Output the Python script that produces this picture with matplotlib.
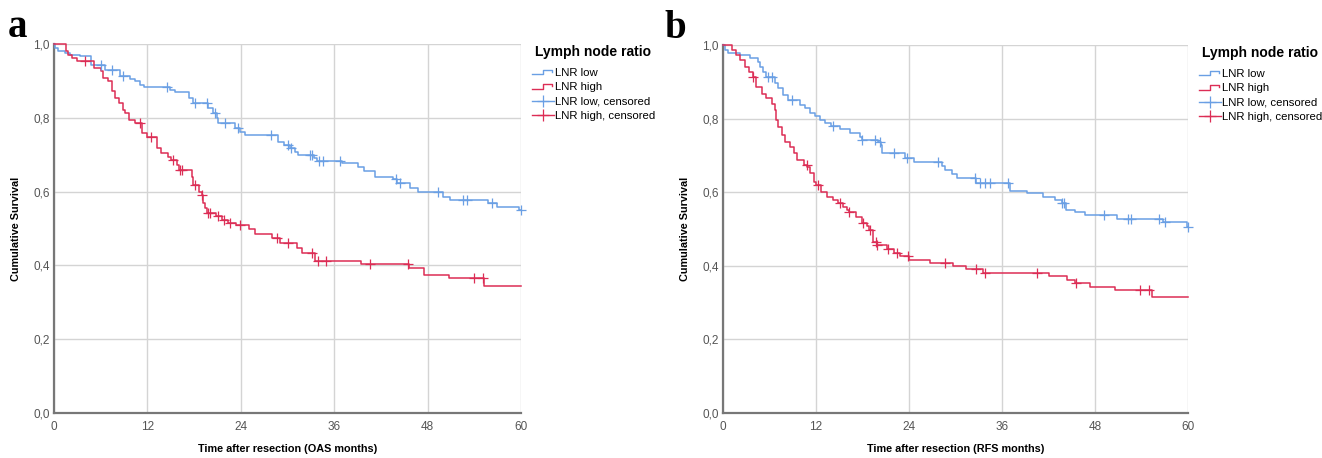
import numpy as np
import matplotlib
matplotlib.use("Agg")
import matplotlib.pyplot as plt
from matplotlib.lines import Line2D
from matplotlib.legend_handler import HandlerBase

plt.rcParams['font.family'] = ['Liberation Sans', 'DejaVu Sans']

# ---- data ----
# panel a: overall survival (OAS)
a_low_t = [0.1, 0.55, 1.4, 2.1, 3.3, 4.8, 6.6, 8.5, 9.8, 10.4, 11.1, 11.5, 14.9, 15.6, 17.3, 17.8,
           19.8, 20.4, 20.9, 21.1, 23.3, 23.9, 24.6, 28.8, 29.5, 30.3, 31.0, 31.4, 33.4, 33.8, 37.0,
           39.1, 39.8, 41.3, 43.6, 44.1, 45.8, 46.8, 50.0, 50.9, 55.8, 56.9, 59.8]
a_low_s = [0.989, 0.980, 0.976, 0.971, 0.967, 0.944, 0.930, 0.912, 0.906, 0.899, 0.890, 0.883, 0.876,
           0.870, 0.854, 0.840, 0.826, 0.812, 0.799, 0.785, 0.772, 0.762, 0.753, 0.735, 0.726, 0.717,
           0.708, 0.699, 0.690, 0.683, 0.677, 0.666, 0.657, 0.640, 0.633, 0.622, 0.609, 0.598, 0.586,
           0.577, 0.568, 0.559, 0.550]
a_low_cens = [6.1, 7.4, 8.9, 14.5, 18.1, 19.7, 20.7, 22.0, 23.7, 27.9, 30.1, 30.5, 32.9, 33.2, 34.0,
              34.5, 36.8, 44.0, 44.4, 49.3, 52.5, 53.0, 56.3, 60.0]

a_high_t = [1.5, 1.8, 2.3, 2.9, 5.1, 6.1, 6.3, 7.0, 7.4, 7.8, 8.3, 8.9, 9.1, 9.6, 10.4, 11.3, 11.9,
            13.2, 13.8, 14.7, 15.0, 15.8, 16.0, 17.7, 17.9, 18.6, 19.0, 19.2, 19.4, 19.6, 20.8, 21.6,
            22.4, 23.4, 25.0, 25.8, 28.0, 29.0, 31.2, 31.8, 33.5, 39.5, 45.6, 47.5, 50.7, 55.3]
a_high_s = [0.980, 0.971, 0.962, 0.953, 0.935, 0.926, 0.908, 0.899, 0.872, 0.854, 0.840, 0.822, 0.812,
            0.795, 0.785, 0.758, 0.747, 0.717, 0.704, 0.695, 0.686, 0.672, 0.659, 0.640, 0.618, 0.600,
            0.591, 0.570, 0.555, 0.543, 0.534, 0.523, 0.516, 0.509, 0.500, 0.484, 0.473, 0.460, 0.446,
            0.433, 0.413, 0.404, 0.392, 0.374, 0.365, 0.345]
a_high_cens = [4.0, 11.0, 12.4, 15.3, 16.2, 16.4, 18.1, 19.0, 19.8, 20.1, 21.1, 21.8, 22.6, 23.9, 28.7,
               30.1, 33.1, 33.9, 35.0, 40.6, 45.5, 53.9, 55.1]

# panel b: recurrence-free survival (RFS)
b_low_t = [0.25, 0.7, 2.2, 3.5, 4.5, 4.8, 5.2, 5.6, 6.7, 7.1, 7.8, 8.4, 9.9, 10.6, 11.2, 11.9, 12.5,
           13.2, 13.9, 15.1, 16.4, 17.7, 17.9, 20.0, 20.4, 20.5, 23.5, 24.6, 28.2, 28.6, 29.5, 30.2,
           32.7, 37.0, 39.2, 41.3, 42.8, 43.7, 44.3, 45.4, 46.7, 50.8, 56.8, 59.9]
b_low_s = [0.986, 0.979, 0.973, 0.964, 0.955, 0.941, 0.927, 0.914, 0.896, 0.882, 0.864, 0.850, 0.837,
           0.828, 0.815, 0.806, 0.796, 0.787, 0.780, 0.773, 0.760, 0.751, 0.742, 0.737, 0.728, 0.706,
           0.692, 0.683, 0.670, 0.660, 0.650, 0.638, 0.624, 0.603, 0.597, 0.588, 0.579, 0.570, 0.552,
           0.547, 0.538, 0.527, 0.518, 0.506]
b_low_cens = [5.8, 6.3, 8.9, 14.2, 17.9, 19.6, 20.3, 22.0, 23.7, 27.8, 32.5, 33.2, 33.8, 34.5, 36.8,
              43.8, 44.0, 49.1, 52.3, 52.7, 56.2, 57.0, 60.0]

b_high_t = [1.1, 1.7, 2.2, 2.8, 3.3, 3.9, 4.3, 5.0, 5.6, 6.3, 6.7, 6.9, 7.1, 7.6, 8.0, 8.6, 9.1, 9.5,
            10.4, 10.9, 11.2, 11.7, 12.0, 12.7, 13.4, 14.2, 14.9, 15.5, 16.0, 16.3, 17.2, 17.9, 18.6,
            18.9, 19.3, 19.9, 21.1, 22.0, 22.9, 24.0, 26.7, 29.7, 31.4, 33.5, 42.0, 44.4, 45.4, 47.4,
            50.6, 55.3]
b_high_s = [0.986, 0.973, 0.959, 0.941, 0.927, 0.912, 0.886, 0.868, 0.855, 0.841, 0.823, 0.796, 0.778,
            0.755, 0.737, 0.724, 0.706, 0.688, 0.675, 0.669, 0.651, 0.629, 0.620, 0.601, 0.588, 0.579,
            0.570, 0.560, 0.552, 0.547, 0.533, 0.515, 0.508, 0.497, 0.466, 0.457, 0.447, 0.436, 0.427,
            0.416, 0.408, 0.399, 0.390, 0.381, 0.371, 0.361, 0.352, 0.343, 0.334, 0.314]
b_high_cens = [3.9, 10.8, 12.2, 15.1, 16.3, 18.1, 19.0, 19.7, 19.9, 21.3, 22.5, 23.9, 28.6, 32.7, 33.8,
               40.5, 45.6, 53.8, 55.0]

labels = ["LNR low", "LNR high", "LNR low, censored", "LNR high, censored"]
legend_title = "Lymph node ratio"
x_ticks = [0, 12, 24, 36, 48, 60]
y_ticks = [0.0, 0.2, 0.4, 0.6, 0.8, 1.0]
y_ticklabels = ["0,0", "0,2", "0,4", "0,6", "0,8", "1,0"]

BLUE = "#6a9fe4"
RED = "#dc2d55"


def km_curve(ax, t, s, cens, color):
    tt = np.array([0.0] + t + [60.0])
    ss = np.array([1.0] + s + [s[-1]])
    ax.step(tt, ss, where="post", color=color, lw=1.1, zorder=3, clip_on=False)
    idx = np.searchsorted(tt, cens, side="right") - 1
    ax.plot(cens, ss[idx], ls="none", marker="+", ms=7, mew=0.9, color=color, zorder=4, clip_on=False)


class StepHandler(HandlerBase):
    def create_artists(self, legend, orig_handle, xdescent, ydescent, width, height, fontsize, trans):
        xs = np.array([0.0, 0.5, 0.5, 0.92, 0.92]) * width - xdescent
        ys = np.array([0.2, 0.2, 0.8, 0.8, 0.5]) * height - ydescent
        ln = Line2D(xs, ys, color=orig_handle.get_color(), lw=1.0, transform=trans)
        return [ln]


fig = plt.figure(figsize=(13.22, 4.58), dpi=100)
ax_a = fig.add_axes([54 / 1322, 1 - 413 / 458, 467 / 1322, 369 / 458])
ax_b = fig.add_axes([723 / 1322, 1 - 413 / 458, 465 / 1322, 368 / 458])

panels = [
    (ax_a, "a", -0.1, "Time after resection (OAS months)", a_low_t, a_low_s, a_low_cens, a_high_t, a_high_s, a_high_cens),
    (ax_b, "b", -0.125, "Time after resection (RFS months)", b_low_t, b_low_s, b_low_cens, b_high_t, b_high_s, b_high_cens),
]

for ax, letter, lx, xlab, lt, ls_, lc, ht, hs, hc in panels:
    km_curve(ax, lt, ls_, lc, BLUE)
    km_curve(ax, ht, hs, hc, RED)
    ax.set_xlim(0, 60)
    ax.set_ylim(0, 1)
    ax.set_xticks(x_ticks)
    ax.set_yticks(y_ticks)
    ax.set_yticklabels(y_ticklabels)
    ax.tick_params(length=0, labelsize=8.5, labelcolor="#555555")
    ax.tick_params(axis="x", pad=6)
    ax.tick_params(axis="y", pad=3)
    ax.grid(True, color="#d4d4d4", lw=1.0)
    ax.set_axisbelow(True)
    for sp in ["top", "right"]:
        ax.spines[sp].set_visible(False)
    for sp in ["left", "bottom"]:
        ax.spines[sp].set_color("#777777")
        ax.spines[sp].set_linewidth(1.6)
    ax.set_xlabel(xlab, fontsize=7.8, fontweight="bold")
    ax.xaxis.set_label_coords(0.5, -0.085)
    ax.set_ylabel("Cumulative Survival", fontsize=7.8, fontweight="bold")
    ax.yaxis.set_label_coords(-0.07, 0.5)
    ax.text(lx, 1.02, letter, transform=ax.transAxes, fontsize=28, fontweight="bold",
            family="Liberation Serif", va="baseline", ha="left")

    ax.text(1.03, 0.978, legend_title, transform=ax.transAxes, fontsize=10.0, fontweight="bold",
            va="center", ha="left")
    handles = [Line2D([], [], color=BLUE), Line2D([], [], color=RED),
               Line2D([], [], color=BLUE, marker="+", ms=9, mew=0.9, lw=1.0),
               Line2D([], [], color=RED, marker="+", ms=9, mew=0.9, lw=1.0)]
    ax.legend(handles, labels, loc="upper left", bbox_to_anchor=(1.023, 0.935),
              frameon=False, fontsize=8.2, borderpad=0.0,
              handlelength=1.95, handletextpad=0.12, labelspacing=0.38,
              borderaxespad=0.0,
              handler_map={handles[0]: StepHandler(), handles[1]: StepHandler()})

fig.savefig("out.png", dpi=100)
